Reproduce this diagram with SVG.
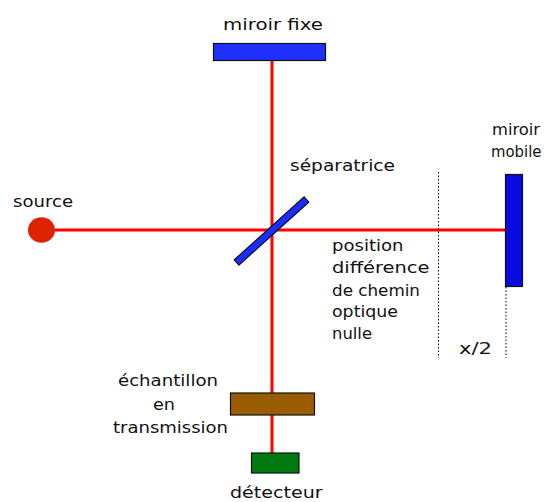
<svg xmlns="http://www.w3.org/2000/svg" width="545" height="502" viewBox="0 0 545 502">
<style>
text{font-family:"DejaVu Sans","Liberation Sans",sans-serif;font-size:16px;fill:#111}
.beam{stroke:#ff0000;stroke-width:3;fill:none}
.dot{stroke:#000;stroke-width:1;stroke-dasharray:1.5 2;fill:none}
.mir{stroke:#111;stroke-width:1.2}
</style>
<rect width="545" height="502" fill="#fff"/>
<g id="connectors">
<line class="beam" x1="41" y1="230" x2="505" y2="230"/>
<line class="beam" x1="272" y1="61" x2="272" y2="453"/>
<line class="dot" x1="438.5" y1="172" x2="438.5" y2="358"/>
<line class="dot" x1="506" y1="287" x2="506" y2="358"/>
</g>
<g id="source">
<ellipse cx="41.5" cy="230" rx="13.5" ry="12.8" fill="#dd2200"/>
<text x="13" y="206.7" textLength="60" lengthAdjust="spacingAndGlyphs">source</text>
</g>
<g id="miroir-fixe">
<rect class="mir" x="213.5" y="43.5" width="112" height="17" fill="#2030ff"/>
<text x="223" y="29.5" textLength="100" lengthAdjust="spacingAndGlyphs">miroir fixe</text>
</g>
<g id="separatrice">
<rect class="mir" x="-47" y="-3.5" width="94" height="7" fill="#1a2cff" transform="translate(271.5 231) rotate(-42)"/>
<text x="290" y="170.7" textLength="105" lengthAdjust="spacingAndGlyphs">séparatrice</text>
</g>
<g id="miroir-mobile">
<rect class="mir" x="505.5" y="174.5" width="17" height="112" fill="#0a0ae0"/>
<text x="492" y="135" textLength="48" lengthAdjust="spacingAndGlyphs">miroir</text>
<text x="491" y="156.7" textLength="50.5" lengthAdjust="spacingAndGlyphs">mobile</text>
</g>
<g id="position-nulle">
<text x="332" y="250.5" textLength="71.5" lengthAdjust="spacingAndGlyphs">position</text>
<text x="332" y="273" textLength="97.5" lengthAdjust="spacingAndGlyphs">différence</text>
<text x="332" y="295.5" textLength="88" lengthAdjust="spacingAndGlyphs">de chemin</text>
<text x="332" y="317" textLength="66" lengthAdjust="spacingAndGlyphs">optique</text>
<text x="332" y="339" textLength="40" lengthAdjust="spacingAndGlyphs">nulle</text>
</g>
<g id="x2">
<text x="459" y="354" textLength="33" lengthAdjust="spacingAndGlyphs">x/2</text>
</g>
<g id="echantillon">
<rect class="mir" x="230.5" y="393" width="84" height="22" fill="#9a5c00"/>
<text x="118" y="386" textLength="100" lengthAdjust="spacingAndGlyphs">échantillon</text>
<text x="153" y="410" textLength="22" lengthAdjust="spacingAndGlyphs">en</text>
<text x="113" y="432.7" textLength="115" lengthAdjust="spacingAndGlyphs">transmission</text>
</g>
<g id="detecteur">
<rect class="mir" x="251.5" y="453" width="47.5" height="20" fill="#007a10"/>
<text x="230" y="498" textLength="92.7" lengthAdjust="spacingAndGlyphs">détecteur</text>
</g>
</svg>
